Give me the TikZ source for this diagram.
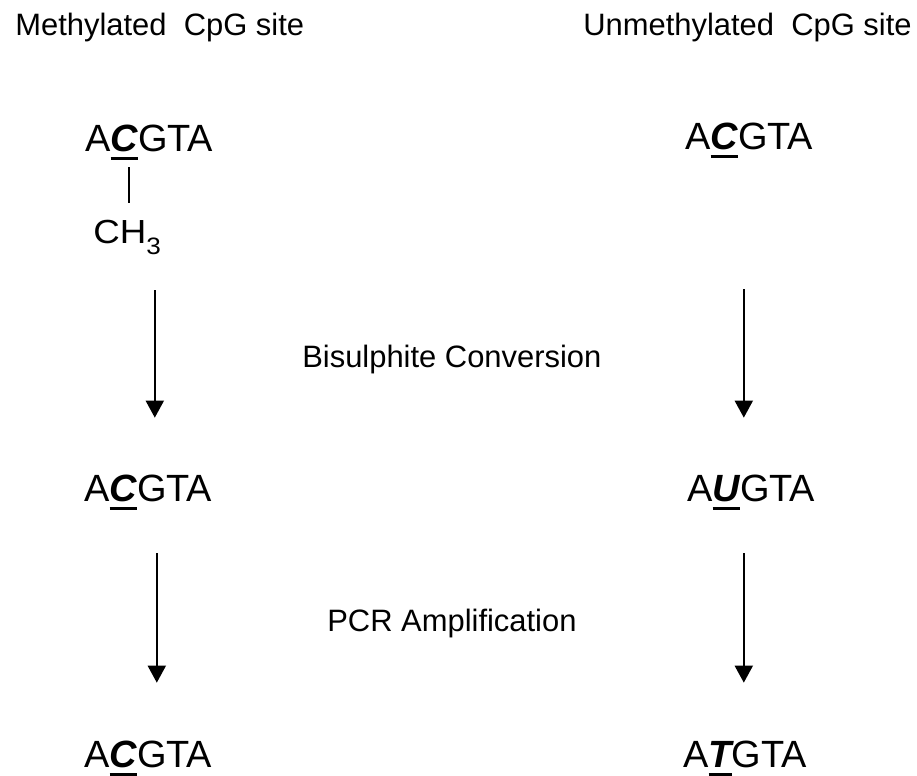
\documentclass[tikz,border=0pt]{standalone}
\usepackage{fontspec}
\setmainfont{Liberation Sans}
\usetikzlibrary{arrows.meta}

% bold italic base with a bar under it
\newcommand{\ulbase}[1]{\setbox0=\hbox{\bfseries\itshape #1}\rlap{\vrule width \wd0 height -2.8pt depth 4.5pt}\box0}

\tikzset{
  head/.style={anchor=base west, inner sep=0pt, font=\fontsize{17.6}{21}\selectfont},
  dna/.style={anchor=base west, inner sep=0pt, text height=0.56cm, text depth=0.12cm, font=\fontsize{21.6}{26}\selectfont},
  methyl/.style={anchor=base west, inner sep=0pt, text height=0.46cm, text depth=0.12cm, font=\fontsize{19}{22}\selectfont, xscale=1.1},
  stage/.style={anchor=base west, inner sep=0pt, font=\fontsize{17.6}{21}\selectfont},
  arr/.style={-{Triangle[width=0.36cm,length=0.34cm]}, line width=1.1pt},
  bond/.style={line width=0.85pt}
}

\begin{document}
\begin{tikzpicture}[x=0.02cm, y=-0.02cm]
  \useasboundingbox (0,0) rectangle (917,776);

  % Headings
  \node[head] (hmeth) at (15,36) {Methylated\ \ CpG site};
  \node[head] (hunmeth) at (583,36) {Unmethylated\ \ CpG site};

  % Methylated column
  \node[dna] (m1) at (85,152) {A\ulbase{C}GTA};
  \node[methyl] (mch) at (93,244) {CH\raisebox{-0.3em}{\fontsize{13.5}{15}\selectfont 3}};
  \node[dna] (m2) at (84,502) {A\ulbase{C}GTA};
  \node[dna] (m3) at (84,768) {A\ulbase{C}GTA};

  % Unmethylated column
  \node[dna] (u1) at (685,150) {A\ulbase{C}GTA};
  \node[dna] (u2) at (687,502) {A\ulbase{U}GTA};
  \node[dna] (u3) at (683,768) {A\ulbase{T}GTA};

  % Steps
  \node[stage] (bis) at (302,368) {Bisulphite Conversion};
  \node[stage] (pcr) at (327,632) {PCR Amplification};

  % Bond to methyl group
  \draw[bond, shorten <=0.18cm, shorten >=0.36cm] ([xshift=-0.41cm]m1.south) -- ([xshift=-0.41cm]m1.south |- mch.north);

  % Arrows
  \draw[arr, shorten <=0.8cm, shorten >=1.12cm] ([xshift=0.13cm]mch.south -| m2.north) -- ([xshift=0.13cm]m2.north);
  \draw[arr, shorten <=0.9cm, shorten >=1.14cm] ([xshift=0.17cm]m2.south) -- ([xshift=0.17cm]m3.north);
  \draw[arr, shorten <=2.66cm, shorten >=1.12cm] ([xshift=-0.11cm]u1.south) -- ([xshift=-0.11cm]u1.south |- u2.north);
  \draw[arr, shorten <=0.9cm, shorten >=1.14cm] ([xshift=-0.15cm]u2.south) -- ([xshift=-0.15cm]u2.south |- u3.north);
\end{tikzpicture}
\end{document}
